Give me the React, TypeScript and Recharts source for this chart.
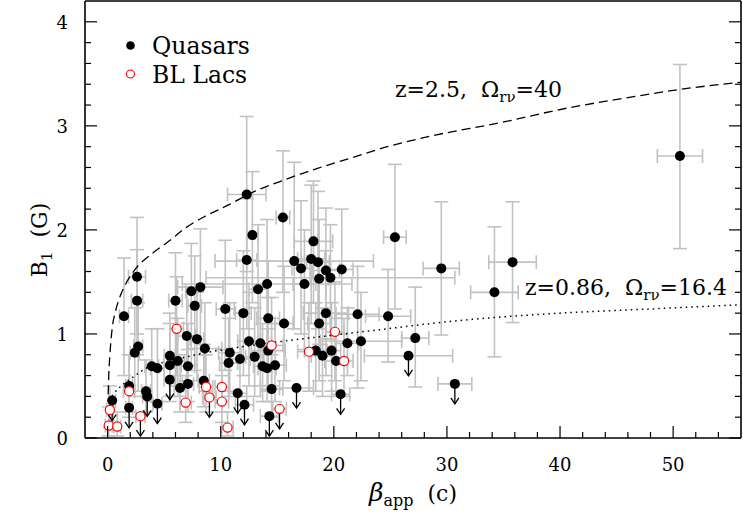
import React from 'react';
import { ScatterChart, Scatter, XAxis, YAxis, ErrorBar } from 'recharts';

const W = 743;
const H = 517;
// axes are 1px thick, so plot area = left 85, right 741, top 1, bottom 438
const MARGIN = { top: 0, right: 1, bottom: 78, left: 84 };
const FONT = '"DejaVu Serif", "Liberation Serif", serif';
const ERR = '#c2c2c2';

// [beta_app, B1, x-error, lower end of B1 error bar, upper end of B1 error bar]
type Det = [number, number, number, number, number];
// [beta_app, B1 upper limit, x-error]
type Lim = [number, number, number];

const quasars: Det[] = [
  [50.6, 2.71, 2.0, 1.82, 3.59],
  [35.8, 1.69, 2.1, 1.11, 2.27],
  [34.2, 1.40, 2.1, 0.78, 2.03],
  [29.5, 1.63, 1.6, 0.99, 2.27],
  [25.4, 1.93, 1.0, 1.24, 2.63],
  [24.8, 1.17, 2.0, 0.73, 1.62],
  [27.2, 0.96, 1.2, 0.49, 1.45],
  [22.1, 1.19, 1.9, 0.48, 1.65],
  [22.4, 0.93, 3.6, 0.55, 1.40],
  [21.2, 0.91, 1.0, 0.60, 1.25],
  [12.3, 2.34, 1.7, 1.60, 3.09],
  [15.5, 2.12, 0.6, 1.40, 2.76],
  [12.8, 1.95, 0.5, 1.30, 2.56],
  [18.2, 1.89, 1.7, 1.30, 2.47],
  [12.3, 1.71, 0.9, 1.05, 2.30],
  [16.5, 1.70, 7.0, 1.05, 2.65],
  [18.0, 1.72, 1.2, 1.10, 2.43],
  [18.6, 1.69, 1.0, 1.05, 2.37],
  [17.1, 1.63, 0.8, 1.00, 2.28],
  [19.3, 1.61, 1.2, 0.95, 2.21],
  [20.7, 1.62, 1.0, 1.00, 2.20],
  [18.7, 1.53, 0.8, 0.90, 2.10],
  [19.7, 1.54, 11.0, 0.95, 2.05],
  [17.4, 1.48, 1.0, 0.85, 2.00],
  [14.1, 1.48, 7.5, 0.85, 2.10],
  [13.3, 1.43, 0.8, 0.80, 2.05],
  [10.4, 1.24, 0.8, 0.65, 1.90],
  [12.0, 1.20, 0.7, 0.60, 1.80],
  [14.2, 1.15, 1.0, 0.45, 1.70],
  [15.6, 1.10, 0.8, 0.55, 1.65],
  [18.7, 1.10, 1.0, 0.55, 1.70],
  [19.3, 1.20, 2.0, 0.60, 1.80],
  [2.6, 1.55, 0.75, 1.00, 2.12],
  [2.6, 1.32, 0.5, 0.80, 1.81],
  [1.45, 1.17, 0.4, 0.60, 1.73],
  [6.0, 1.32, 0.6, 0.50, 1.78],
  [7.4, 1.41, 0.5, 0.70, 1.87],
  [8.2, 1.45, 2.0, 0.80, 2.01],
  [7.7, 1.27, 0.6, 0.65, 1.75],
  [2.7, 0.88, 0.4, 0.45, 1.30],
  [2.4, 0.82, 0.4, 0.40, 1.25],
  [1.9, 0.50, 0.3, 0.25, 0.80],
  [3.4, 0.45, 0.4, 0.25, 0.75],
  [3.9, 0.69, 0.6, 0.35, 1.05],
  [4.4, 0.67, 0.6, 0.35, 1.05],
  [5.5, 0.70, 0.5, 0.35, 1.10],
  [5.5, 0.79, 0.5, 0.40, 1.20],
  [6.2, 0.74, 0.6, 0.40, 1.15],
  [7.1, 0.69, 0.6, 0.35, 1.10],
  [7.1, 0.52, 0.5, 0.25, 0.85],
  [6.4, 0.48, 0.5, 0.25, 0.80],
  [7.0, 0.98, 0.8, 0.55, 1.45],
  [7.9, 0.95, 0.6, 0.55, 1.40],
  [8.6, 0.86, 1.5, 0.45, 1.30],
  [8.5, 0.55, 0.5, 0.30, 0.90],
  [10.8, 0.82, 1.0, 0.45, 1.30],
  [10.7, 0.72, 0.8, 0.40, 1.15],
  [11.7, 0.76, 0.9, 0.40, 1.20],
  [12.5, 0.93, 1.0, 0.50, 1.40],
  [13.0, 0.78, 0.8, 0.40, 1.25],
  [13.5, 0.91, 1.0, 0.50, 1.45],
  [13.7, 0.69, 0.8, 0.35, 1.10],
  [14.2, 0.84, 1.5, 0.45, 1.35],
  [14.1, 0.67, 0.8, 0.35, 1.05],
  [14.8, 0.70, 1.0, 0.35, 1.10],
  [14.5, 0.47, 1.0, 0.20, 0.80],
  [18.4, 0.84, 1.0, 0.45, 1.30],
  [19.0, 0.79, 1.0, 0.40, 1.25],
  [19.8, 0.84, 0.8, 0.45, 1.30],
  [20.2, 0.74, 1.0, 0.40, 1.15],
];

const quasarLimits: Lim[] = [
  [0.4, 0.36, 0.3],
  [1.9, 0.29, 0.3],
  [3.5, 0.40, 0.4],
  [4.4, 0.33, 0.4],
  [5.5, 0.56, 0.5],
  [11.5, 0.43, 0.8],
  [12.1, 0.32, 0.8],
  [14.3, 0.21, 0.8],
  [16.7, 0.48, 1.5],
  [20.6, 0.42, 0.8],
  [26.6, 0.79, 3.9],
  [30.7, 0.52, 1.5],
];

const blLacs: Det[] = [
  [0.2, 0.27, 0.3, 0.10, 0.50],
  [0.1, 0.12, 0.3, 0.02, 0.30],
  [0.85, 0.11, 0.3, 0.02, 0.25],
  [1.9, 0.45, 0.5, 0.20, 0.80],
  [6.1, 1.05, 0.6, 0.60, 1.55],
  [6.9, 0.34, 0.5, 0.15, 0.60],
  [8.7, 0.49, 0.6, 0.25, 0.80],
  [10.1, 0.49, 0.6, 0.25, 0.85],
  [10.1, 0.35, 0.6, 0.15, 0.60],
  [10.6, 0.10, 0.5, 0.02, 0.25],
  [14.5, 0.89, 1.0, 0.50, 1.35],
  [17.8, 0.83, 1.0, 0.45, 1.30],
  [20.1, 1.02, 0.8, 0.55, 1.50],
  [20.9, 0.74, 0.8, 0.40, 1.15],
];

const blLacLimits: Lim[] = [
  [2.9, 0.21, 0.4],
  [9.0, 0.39, 0.6],
  [15.2, 0.28, 0.6],
];

// z=2.5, Omega=40 curve
const dashedCurve: [number, number][] = [
  [0.05, 0.42], [0.1, 0.6], [0.2, 0.8], [0.4, 1.05], [0.7, 1.22], [1.0, 1.33],
  [1.6, 1.48], [2.5, 1.63], [3.9, 1.77], [5.4, 1.89], [6.9, 2.02], [8.6, 2.13],
  [10.7, 2.24], [12.6, 2.35], [15.6, 2.48], [18.5, 2.59], [21.5, 2.69], [24.4, 2.79],
  [28.5, 2.9], [34.7, 3.03], [40.6, 3.17], [46.5, 3.28], [50.6, 3.35], [56, 3.42],
];

// z=0.86, Omega=16.4 curve
const dottedCurve: [number, number][] = [
  [0.1, 0.36], [0.5, 0.42], [1.3, 0.51], [2.3, 0.59], [3.4, 0.67], [5.0, 0.73],
  [6.6, 0.77], [8.7, 0.82], [10.9, 0.86], [14.8, 0.92], [19.3, 0.98], [23.2, 1.03],
  [31.2, 1.13], [40, 1.2], [48, 1.24], [56, 1.28],
];

const xTicks = [0, 2, 4, 6, 8, 10, 12, 14, 16, 18, 20, 22, 24, 26, 28, 30, 32, 34, 36, 38, 40, 42, 44, 46, 48, 50, 52, 54];
const yTicks = [0, 0.2, 0.4, 0.6, 0.8, 1, 1.2, 1.4, 1.6, 1.8, 2, 2.2, 2.4, 2.6, 2.8, 3, 3.2, 3.4, 3.6, 3.8, 4];
const xMajor = [0, 10, 20, 30, 40, 50];
const yMajor = [0, 1, 2, 3, 4];

const toDet = (rows: Det[]) =>
  rows.map(([x, y, xe, lo, hi]) => ({ x, y, ex: xe, ey: [y - lo, hi - y] }));
const toLim = (rows: Lim[]) => rows.map(([x, y, xe]) => ({ x, y, ex: xe }));
const toCurve = (rows: [number, number][]) => rows.map(([x, y]) => ({ x, y }));

const MAJ = 12;
const MIN = 6;
const TICK_W = 1.2;

const BottomTick = (p: any) => {
  const { x, y, payload } = p;
  const major = xMajor.includes(payload.value);
  return (
    <g>
      <line x1={x} x2={x} y1={y} y2={y - (major ? MAJ : MIN)} stroke="#000" strokeWidth={TICK_W} />
      {major && (
        <text x={x} y={y + 33} textAnchor="middle" fontFamily={FONT} fontSize={18} fill="#000">
          {payload.value}
        </text>
      )}
    </g>
  );
};

const TopTick = (p: any) => {
  const { x, y, payload } = p;
  const major = xMajor.includes(payload.value);
  return <line x1={x} x2={x} y1={y} y2={y + (major ? MAJ : MIN)} stroke="#000" strokeWidth={TICK_W} />;
};

const LeftTick = (p: any) => {
  const { x, y, payload } = p;
  const major = yMajor.includes(payload.value);
  return (
    <g>
      <line x1={x} x2={x + (major ? MAJ : MIN)} y1={y} y2={y} stroke="#000" strokeWidth={TICK_W} />
      {major && (
        <text x={x - 17} y={y + 7} textAnchor="end" fontFamily={FONT} fontSize={18} fill="#000">
          {payload.value}
        </text>
      )}
    </g>
  );
};

const RightTick = (p: any) => {
  const { x, y, payload } = p;
  const major = yMajor.includes(payload.value);
  return <line x1={x} x2={x - (major ? MAJ : MIN)} y1={y} y2={y} stroke="#000" strokeWidth={TICK_W} />;
};

const Hidden = () => <g />;

const R_FILLED = 5;
const R_OPEN = 4.6;

const FilledDot = (p: any) => <circle cx={p.cx} cy={p.cy} r={R_FILLED} fill="#000" />;
const OpenDot = (p: any) => (
  <circle cx={p.cx} cy={p.cy} r={R_OPEN} fill="#fff" stroke="#ff0000" strokeWidth={1.2} />
);

const Arrow = ({ cx, cy }: { cx: number; cy: number }) => (
  <g stroke="#000" strokeWidth={1.3} fill="none">
    <line x1={cx} x2={cx} y1={cy} y2={cy + 20} />
    <polyline points={`${cx - 4},${cy + 14} ${cx},${cy + 20} ${cx + 4},${cy + 14}`} />
  </g>
);

const FilledLimit = (p: any) => (
  <g>
    <Arrow cx={p.cx} cy={p.cy} />
    <circle cx={p.cx} cy={p.cy} r={R_FILLED} fill="#000" />
  </g>
);
const OpenLimit = (p: any) => (
  <g>
    <Arrow cx={p.cx} cy={p.cy} />
    <circle cx={p.cx} cy={p.cy} r={R_OPEN} fill="#fff" stroke="#ff0000" strokeWidth={1.2} />
  </g>
);

const axisLine = { stroke: '#000', strokeWidth: 1.6 };

export default function App() {
  const qDet = toDet(quasars);
  const qLim = toLim(quasarLimits);
  const bDet = toDet(blLacs);
  const bLim = toLim(blLacLimits);
  return (
    <div style={{ position: 'absolute', left: 0, top: 0, width: W, height: H, background: '#fff' }}>
      <ScatterChart width={W} height={H} margin={MARGIN}>
        <XAxis
          type="number"
          dataKey="x"
          domain={[-2, 56]}
          allowDataOverflow
          ticks={xTicks}
          interval={0}
          tick={(p: any) => <BottomTick {...p} />}
          tickLine={false}
          tickSize={0}
          tickMargin={0}
          height={1}
          axisLine={axisLine}
        />
        <XAxis
          xAxisId="top"
          orientation="top"
          type="number"
          domain={[-2, 56]}
          allowDataOverflow
          ticks={xTicks}
          interval={0}
          tick={(p: any) => <TopTick {...p} />}
          tickLine={false}
          tickSize={0}
          tickMargin={0}
          height={1}
          axisLine={axisLine}
        />
        <YAxis
          type="number"
          dataKey="y"
          domain={[0, 4.2]}
          allowDataOverflow
          ticks={yTicks}
          interval={0}
          tick={(p: any) => <LeftTick {...p} />}
          tickLine={false}
          tickSize={0}
          tickMargin={0}
          width={1}
          axisLine={axisLine}
        />
        <YAxis
          yAxisId="right"
          orientation="right"
          type="number"
          domain={[0, 4.2]}
          allowDataOverflow
          ticks={yTicks}
          interval={0}
          tick={(p: any) => <RightTick {...p} />}
          tickLine={false}
          tickSize={0}
          tickMargin={0}
          width={1}
          axisLine={axisLine}
        />

        {/* error bars first so symbols sit on top */}
        <Scatter data={qDet} shape={Hidden} isAnimationActive={false}>
          <ErrorBar dataKey="ey" direction="y" width={7} stroke={ERR} strokeWidth={1.6} />
          <ErrorBar dataKey="ex" direction="x" width={7} stroke={ERR} strokeWidth={1.6} />
        </Scatter>
        <Scatter data={qLim} shape={Hidden} isAnimationActive={false}>
          <ErrorBar dataKey="ex" direction="x" width={7} stroke={ERR} strokeWidth={1.6} />
        </Scatter>
        <Scatter data={bDet} shape={Hidden} isAnimationActive={false}>
          <ErrorBar dataKey="ey" direction="y" width={7} stroke={ERR} strokeWidth={1.6} />
          <ErrorBar dataKey="ex" direction="x" width={7} stroke={ERR} strokeWidth={1.6} />
        </Scatter>
        <Scatter data={bLim} shape={Hidden} isAnimationActive={false}>
          <ErrorBar dataKey="ex" direction="x" width={7} stroke={ERR} strokeWidth={1.6} />
        </Scatter>

        <Scatter
          data={toCurve(dashedCurve)}
          shape={Hidden}
          line={{ stroke: '#000', strokeWidth: 1.3, strokeDasharray: '9 5' }}
          lineJointType="monotoneX"
          isAnimationActive={false}
        />
        <Scatter
          data={toCurve(dottedCurve)}
          shape={Hidden}
          line={{ stroke: '#000', strokeWidth: 1.5, strokeDasharray: '1.5 4' }}
          lineJointType="monotoneX"
          isAnimationActive={false}
        />

        <Scatter data={qDet} shape={FilledDot} isAnimationActive={false} />
        <Scatter data={qLim} shape={FilledLimit} isAnimationActive={false} />
        <Scatter data={bDet} shape={OpenDot} isAnimationActive={false} />
        <Scatter data={bLim} shape={OpenLimit} isAnimationActive={false} />
      </ScatterChart>

      <svg
        width={W}
        height={H}
        style={{ position: 'absolute', left: 0, top: 0, pointerEvents: 'none' }}
        fontFamily={FONT}
      >
        {/* legend */}
        <circle cx={130.5} cy={45.5} r={4.3} fill="#000" />
        <text x={152} y={54} fontSize={23.5} fill="#000">Quasars</text>
        <circle cx={130.5} cy={74} r={4} fill="#fff" stroke="#ff0000" strokeWidth={1.1} />
        <text x={152} y={82.5} fontSize={23.5} fill="#000">BL Lacs</text>

        {/* curve annotations */}
        <text x={395} y={97} fontSize={22} fill="#000" xmlSpace="preserve">
          {'z=2.5,  \u03A9'}
          <tspan fontSize={15} dy={5}>{'r\u03BD'}</tspan>
          <tspan dy={-5}>=40</tspan>
        </text>
        <text x={525} y={295} fontSize={22} fill="#000" xmlSpace="preserve">
          {'z=0.86,  \u03A9'}
          <tspan fontSize={15} dy={5}>{'r\u03BD'}</tspan>
          <tspan dy={-5}>=16.4</tspan>
        </text>

        {/* axis titles */}
        <text x={413} y={501} fontSize={22} fill="#000" textAnchor="middle" xmlSpace="preserve">
          <tspan fontStyle="italic" fontSize={25}>{'\u03B2'}</tspan>
          <tspan fontSize={16} dy={5}>app</tspan>
          <tspan dy={-5}>{'  (c)'}</tspan>
        </text>
        <text
          x={0}
          y={0}
          fontSize={22}
          fill="#000"
          textAnchor="middle"
          xmlSpace="preserve"
          transform="translate(47,240) rotate(-90)"
        >
          {'B'}
          <tspan fontSize={15} dy={5}>1</tspan>
          <tspan dy={-5}>{'  (G)'}</tspan>
        </text>
      </svg>
    </div>
  );
}
